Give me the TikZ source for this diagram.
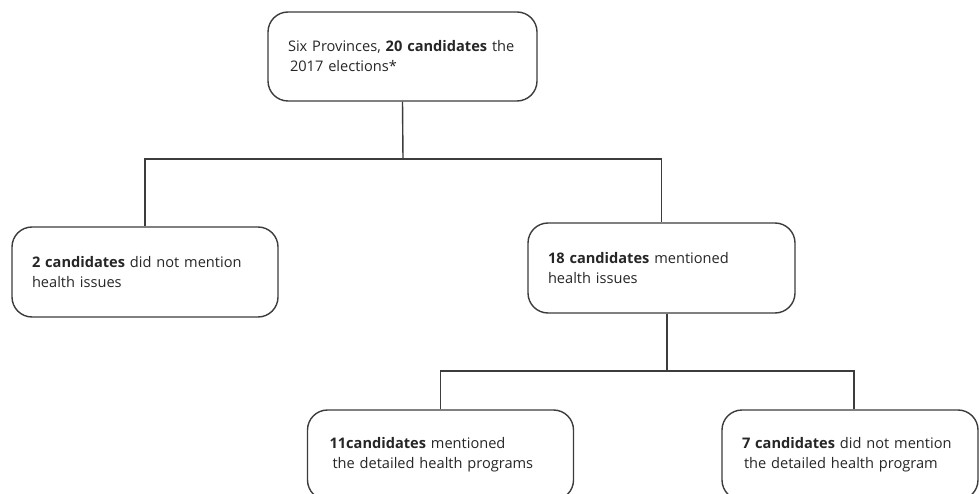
\documentclass[tikz,border=0pt]{standalone}
\usepackage{fontspec}
\setmainfont{Open Sans}
\begin{document}
\begin{tikzpicture}[x=1pt,y=-1pt,
  box/.style={draw=linegray, line width=1.4pt, rounded corners=20pt, align=left,
    inner xsep=20pt, inner ysep=0pt, anchor=center, font=\fontsize{14.6}{20}\selectfont,
    text=black!85},
  conn/.style={draw=linegray, line width=1.4pt}]
\definecolor{linegray}{HTML}{3C3C3C}
\useasboundingbox (0,0) rectangle (979,494);
\clip (0,0) rectangle (979,494);
\fill[white] (0,0) rectangle (979,494);
\node[box, text width=229pt, minimum height=89pt] (top) at (402.5,56.5)
  {\mbox{Six Provinces, \textbf{20 candidates} the}\\\hspace*{2pt}2017 elections*};
\node[box, text width=226pt, minimum height=90pt] (left) at (145,272)
  {\textbf{2 candidates} did not mention\\health issues};
\node[box, text width=227pt, minimum height=90pt] (right) at (661.5,268)
  {\textbf{18 candidates} mentioned\\health issues};
\node[box, text width=222pt, inner xsep=22pt, minimum height=90pt] (bl) at (440.5,455)
  {\textbf{11candidates} mentioned\\\hspace*{3pt}the detailed health programs};
\node[box, text width=216pt, minimum height=90pt] (br) at (850,455)
  {\mbox{\textbf{7 candidates} did not mention}\\\hspace*{2pt}the detailed health program};
\coordinate (j1) at (403,159);
\coordinate (j2) at (667,371);
\draw[conn] (top.south) -- (j1);
\draw[conn] (left.north) |- (j1) -| (right.north);
\draw[conn] ([xshift=5.5pt]right.south) -- (j2);
\draw[conn] (bl.north) |- (j2) -| ([xshift=4pt]br.north);
\end{tikzpicture}
\end{document}
